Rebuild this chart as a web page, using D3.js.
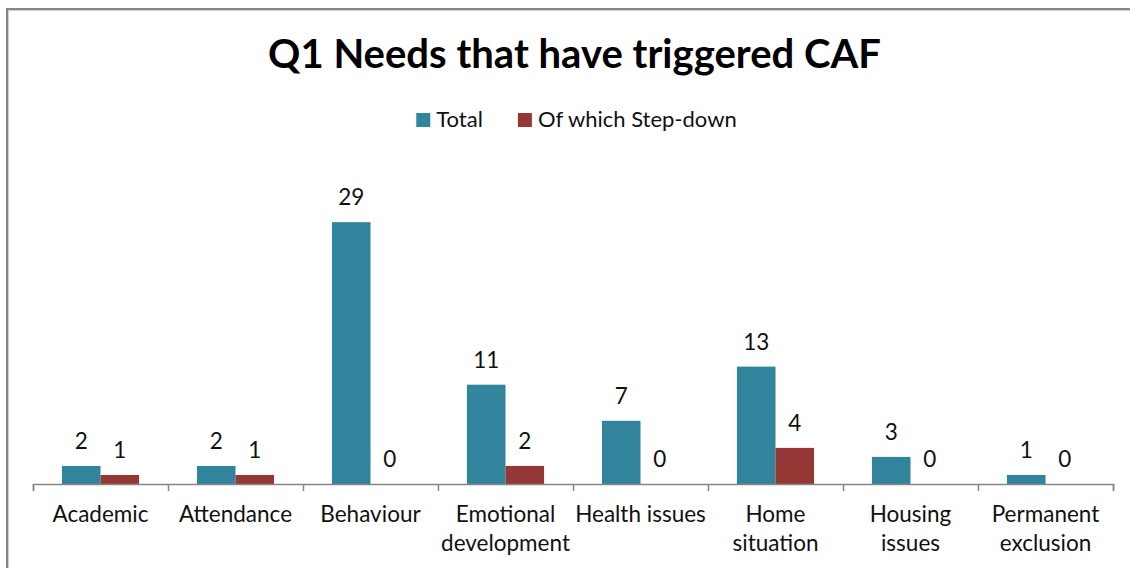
<!DOCTYPE html>
<html>
<head>
<meta charset="utf-8">
<script src="https://cdn.jsdelivr.net/npm/d3@7"></script>
<style>
  html, body { margin: 0; padding: 0; background: #fff; }
  svg { display: block; font-family: Lato, "Open Sans", sans-serif; }
</style>
</head>
<body>
<svg id="chart" width="1130" height="568"></svg>
<script>
// Categories (each entry split into the lines it is printed on)
const categories = ["Academic", "Attendance", "Behaviour", "Emotional development",
  "Health issues", "Home situation", "Housing issues", "Permanent exclusion"];
const categoryLines = [["Academic"], ["Attendance"], ["Behaviour"], ["Emotional", "development"],
  ["Health issues"], ["Home", "situation"], ["Housing", "issues"], ["Permanent", "exclusion"]];

// Series
const seriesNames = ["Total", "Of which Step-down"];
const totalValues = [2, 2, 29, 11, 7, 13, 3, 1];
const stepDownValues = [1, 1, 0, 2, 0, 4, 0, 0];
const seriesColors = ["#31849b", "#953735"];

const titleText = "Q1 Needs that have triggered CAF";

const svg = d3.select("#chart");
const W = 1130, H = 568;

// Chart frame (left and top edges visible)
svg.append("path")
  .attr("d", `M7,${H} V9 H${W}`)
  .attr("fill", "none")
  .attr("stroke", "#878787")
  .attr("stroke-width", 2);
svg.append("path")
  .attr("d", `M8.5,${H} V10.5 H${W}`)
  .attr("fill", "none")
  .attr("stroke", "#d0d0d0")
  .attr("stroke-width", 1);

// Plot geometry
const plotLeft = 33, plotRight = 1113, baseY = 484, valueTopY = 168;

const x = d3.scaleBand().domain(categories).range([plotLeft, plotRight]).paddingInner(0).paddingOuter(0);
const xs = d3.scaleBand().domain(seriesNames).range([0, x.bandwidth()]).paddingInner(0).paddingOuter(0.75);
const y = d3.scaleLinear().domain([0, 35]).range([baseY, valueTopY]);

// Title
const title = svg.append("text")
  .attr("x", 574.5)
  .attr("y", 68)
  .attr("text-anchor", "middle")
  .attr("font-weight", "bold")
  .attr("font-size", 36)
  .attr("fill", "#000")
  .text(titleText);
// fit title to its intended width
{
  const w = title.node().getComputedTextLength();
  title.attr("font-size", 36 * 613 / w);
}

// Legend
const legendFont = 22;
const legend = svg.append("g");
let lx = 0;
seriesNames.forEach((name, i) => {
  const g = legend.append("g").attr("transform", `translate(${lx},0)`);
  g.append("rect").attr("x", 0).attr("y", 113).attr("width", 14).attr("height", 14).attr("fill", seriesColors[i]);
  const t = g.append("text").attr("x", 20).attr("y", 127).attr("font-size", legendFont).attr("fill", "#111").text(name);
  const tw = t.node().getComputedTextLength();
  lx += 20 + tw + (i === 0 ? 35 : 0);
});
legend.attr("transform", `translate(${576.5 - lx / 2},0)`);

// Bars
const data = categories.map((c, i) => ({ cat: c, vals: [totalValues[i], stepDownValues[i]] }));
const groups = svg.append("g").selectAll("g").data(data).join("g")
  .attr("transform", d => `translate(${x(d.cat)},0)`);

groups.selectAll("rect").data(d => d.vals.map((v, k) => ({ v, k }))).join("rect")
  .attr("x", d => xs(seriesNames[d.k]))
  .attr("width", xs.bandwidth())
  .attr("y", d => y(d.v))
  .attr("height", d => baseY - y(d.v))
  .attr("fill", d => seriesColors[d.k]);

// Value labels
groups.selectAll("text").data(d => d.vals.map((v, k) => ({ v, k }))).join("text")
  .attr("x", d => xs(seriesNames[d.k]) + xs.bandwidth() / 2)
  .attr("y", d => y(d.v) - 17)
  .attr("text-anchor", "middle")
  .attr("font-size", 22.5)
  .attr("fill", "#111")
  .text(d => d.v);

// Category axis with tick marks at category boundaries
const xb = d3.scaleLinear().domain([0, categories.length]).range([plotLeft, plotRight]);
const axis = svg.append("g")
  .attr("transform", `translate(0,${baseY})`)
  .call(d3.axisBottom(xb).tickValues(d3.range(categories.length + 1)).tickSize(7).tickSizeOuter(7).tickFormat(""));
axis.selectAll("path, line").attr("stroke", "#868686").attr("stroke-width", 1.5);

// Category labels
const catLabels = svg.append("g").selectAll("text").data(categories).join("text")
  .attr("x", d => x(d) + x.bandwidth() / 2)
  .attr("y", 522)
  .attr("text-anchor", "middle")
  .attr("font-size", 22.5)
  .attr("fill", "#111");
catLabels.each(function (d, i) {
  d3.select(this).selectAll("tspan").data(categoryLines[i]).join("tspan")
    .attr("x", x(d) + x.bandwidth() / 2)
    .attr("dy", (l, j) => j === 0 ? 0 : 28.5)
    .text(l => l);
});
</script>
</body>
</html>
